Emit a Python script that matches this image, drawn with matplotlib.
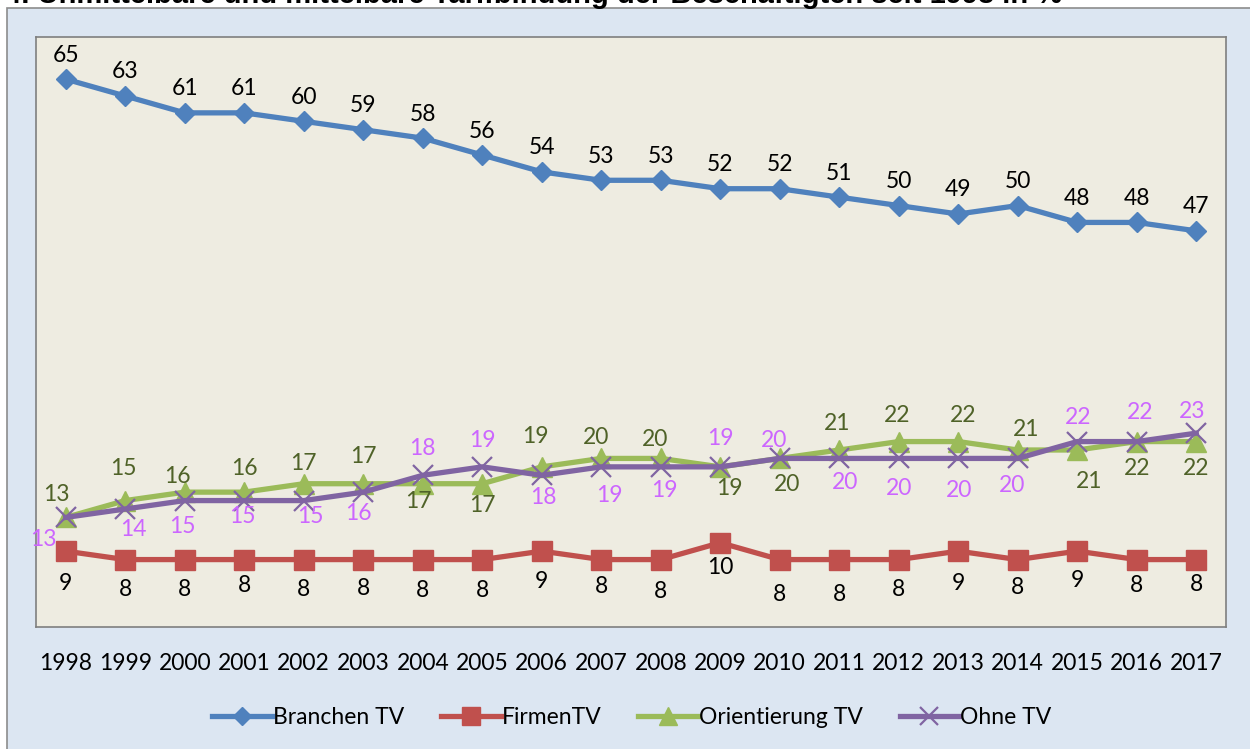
import matplotlib
matplotlib.use("Agg")
import matplotlib.pyplot as plt
from matplotlib.patches import Rectangle

# Daten (in %)
years = [str(y) for y in range(1998, 2018)]
branchen_tv = [65, 63, 61, 61, 60, 59, 58, 56, 54, 53, 53, 52, 52, 51, 50, 49, 50, 48, 48, 47]
firmen_tv = [9, 8, 8, 8, 8, 8, 8, 8, 9, 8, 8, 10, 8, 8, 8, 9, 8, 9, 8, 8]
orientierung_tv = [13, 15, 16, 16, 17, 17, 17, 17, 19, 20, 20, 19, 20, 21, 22, 22, 21, 21, 22, 22]
ohne_tv = [13, 14, 15, 15, 15, 16, 18, 19, 18, 19, 19, 19, 20, 20, 20, 20, 20, 22, 22, 23]

TITLE = "4. Unmittelbare und mittelbare Tarifbindung der Beschäftigten seit 1998 in %"

# Label-Versatz in Pixeln (negativ = oberhalb)
dy_branchen = [-24] * 20
dy_firmen = [32, 30, 30, 26, 30, 29, 31, 31, 30, 27, 32, 25, 35, 35, 30, 32, 28, 29, 26, 25]
dy_orient = [-23, -32, -16, -24, -20, -27, 18, 22, -30, -21, -19, 22, 26, -27, -26, -26, -21, 32, 27, 27]
dx_orient = [-9, -2, -7, 0, 0, 0, -4, 0, -6, -5, -6, 9, 7, -2, -2, 5, 8, 12, 0, 0]
dy_ohne = [22, 20, 26, 16, 16, 21, -27, -26, 22, 29, 24, -28, -18, 24, 30, 32, 27, -24, -29, -22]
dx_ohne = [-22, 8, -2, -2, 7, -5, 0, 0, 2, 8, 4, 0, -6, 6, 0, 1, -6, 1, 3, -4]

C_BLUE = "#4F81BD"
C_RED = "#C0504D"
C_GREEN = "#9BBB59"
C_PURPLE = "#8064A2"
C_OLIVE = "#4F6228"
C_VIOLET = "#CC66FF"

FONT = "Lato"

fig = plt.figure(figsize=(12.5, 7.49), dpi=100)
fig.patch.set_facecolor("white")

# aeusserer Rahmen
W, H = 1250, 749
fig.patches.append(Rectangle((7 / W, -0.05), 1.1, 1 - 8 / H + 0.05,
                             transform=fig.transFigure, facecolor="#DCE6F2",
                             edgecolor="#8C8C8C", linewidth=1.2, zorder=-5))

fig.text(5 / W, 1 - 3 / H, TITLE, ha="left", va="baseline", fontsize=21,
         fontweight="bold", family="Liberation Sans")

ax = fig.add_axes([36 / W, 1 - 627 / H, (1226 - 36) / W, (627 - 37) / H])
ax.set_zorder(2)
ax.set_facecolor("#EEECE1")
for s in ax.spines.values():
    s.set_color("#7F7F7F")
    s.set_linewidth(1.2)

x = list(range(len(years)))
ax.plot(x, branchen_tv, color=C_BLUE, lw=3.8, marker="D", ms=10,
        mfc=C_BLUE, mec=C_BLUE, label="Branchen TV", zorder=3)
ax.plot(x, firmen_tv, color=C_RED, lw=3.8, marker="s", ms=14,
        mfc=C_RED, mec=C_RED, label="FirmenTV", zorder=3)
ax.plot(x, orientierung_tv, color=C_GREEN, lw=3.8, marker="^", ms=14,
        mfc=C_GREEN, mec=C_GREEN, label="Orientierung TV", zorder=3)
ax.plot(x, ohne_tv, color=C_PURPLE, lw=3.8, marker="x", ms=14, mew=1.6,
        mec=C_PURPLE, label="Ohne TV", zorder=4)

def labels(vals, dys, color, dxs=None):
    for i, v in enumerate(vals):
        dx = dxs[i] if dxs else 0
        ax.annotate(str(v), (i, v), xytext=(dx, -dys[i]), textcoords="offset pixels",
                    ha="center", va="center", fontsize=16.5, color=color,
                    family=FONT, zorder=6)

labels(branchen_tv, dy_branchen, "black")
labels(firmen_tv, dy_firmen, "black")
labels(orientierung_tv, dy_orient, C_OLIVE, dx_orient)
labels(ohne_tv, dy_ohne, C_VIOLET, dx_ohne)

ax.set_xlim(-0.5, len(years) - 0.5)
ax.set_ylim(0, 70)
ax.set_xticks(x)
ax.set_xticklabels(years, fontsize=16.5, family=FONT)
ax.set_yticks([])
ax.tick_params(axis="x", length=0, pad=19)

leg = fig.legend(loc="center", bbox_to_anchor=(632 / W, 1 - 718 / H), ncol=4,
                 frameon=False, prop={"family": FONT, "size": 16.5},
                 handlelength=2.6, handletextpad=0.05, columnspacing=1.6,
                 markerscale=0.9)

fig.savefig("out.png", dpi=100, facecolor=fig.get_facecolor())
